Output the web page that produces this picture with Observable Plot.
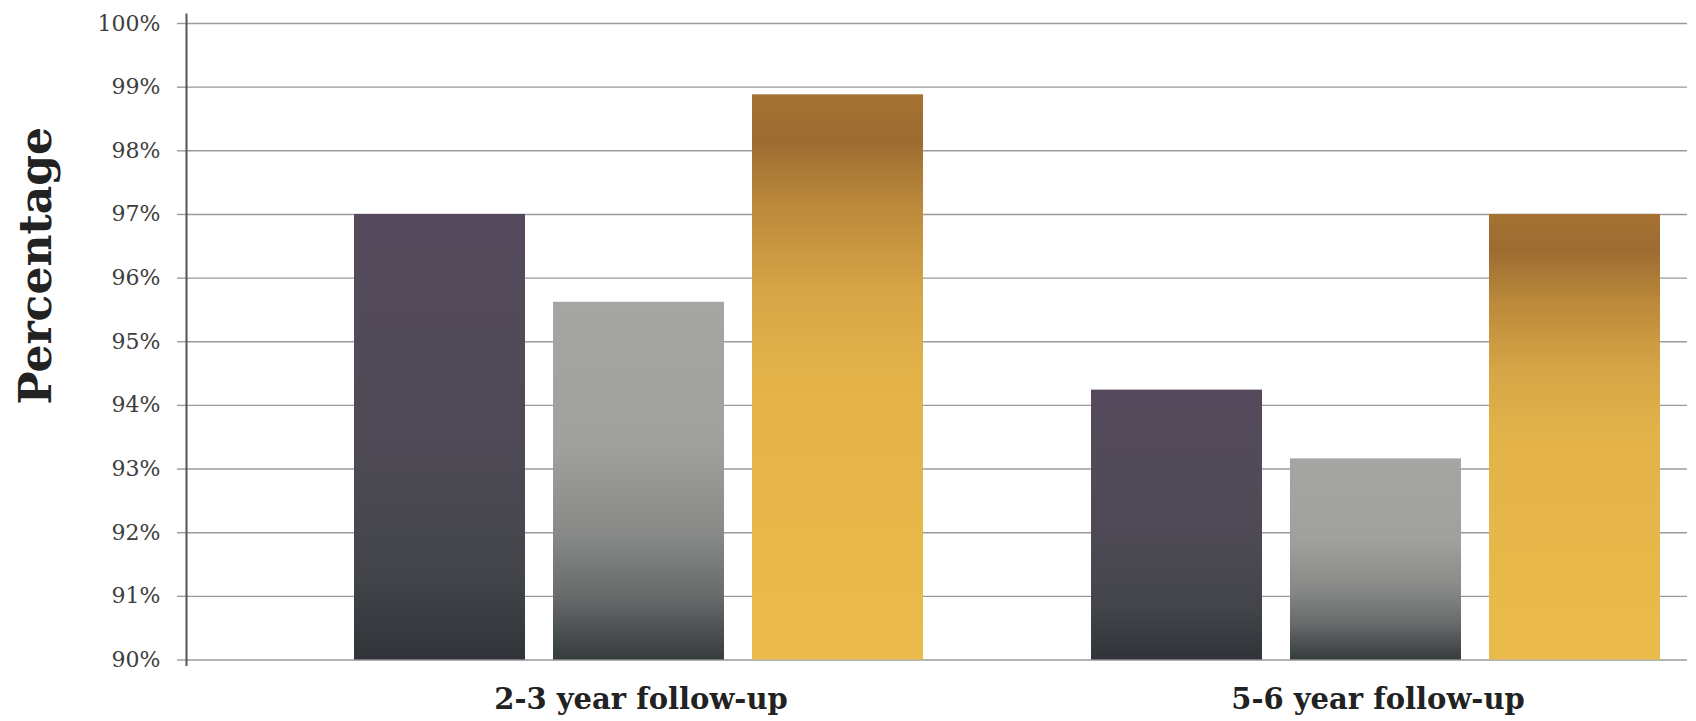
<!DOCTYPE html>
<html>
<head>
<meta charset="utf-8">
<script src="https://cdn.jsdelivr.net/npm/d3@7"></script>
<script src="https://cdn.jsdelivr.net/npm/@observablehq/plot@0.6"></script>
<style>
  html, body { margin: 0; padding: 0; background: #ffffff; }
  #chart svg { display: block; }
</style>
</head>
<body>
<div id="chart"></div>
<script>
// ---- data ----
const groups = ["2-3 year follow-up", "5-6 year follow-up"];
const series = ["Series 1", "Series 2", "Series 3"];
const values2to3 = [97.0, 95.62, 98.88];
const values5to6 = [94.24, 93.16, 97.0];
const yTicks = [90, 91, 92, 93, 94, 95, 96, 97, 98, 99, 100];
const yLabel = "Percentage";

// ---- gradient styles (per series) ----
const gradPurple = [[0, "#554a5c"], [0.5, "#4f4a56"], [0.8, "#43454b"], [1, "#303439"]];
const gradGray = [[0, "#a5a6a4"], [0.4, "#a0a19f"], [0.65, "#878987"], [0.82, "#676b6b"], [1, "#363b3e"]];
const gradGold = [[0, "#a57232"], [0.08, "#9d6b31"], [0.2, "#bb8a3b"], [0.35, "#d6a546"], [0.5, "#e3b34a"], [1, "#ebbb4a"]];
const gradients = [gradPurple, gradGray, gradGold];

const allValues = [values2to3, values5to6];
const data = groups.flatMap((g, gi) =>
  series.map((s, si) => ({group: g, series: s, value: allValues[gi][si]}))
);
const yMin = yTicks[0];
const yMax = yTicks[yTicks.length - 1];
const gridFirst = yTicks.map(t => ({group: groups[0], tick: t}));
const gridLast = yTicks.map(t => ({group: groups[groups.length - 1], tick: t}));

function gradientDefs() {
  const defs = d3.create("svg:defs");
  gradients.forEach((stops, i) => {
    const lg = defs.append("linearGradient")
      .attr("id", "barGrad" + i)
      .attr("x1", 0).attr("y1", 0).attr("x2", 0).attr("y2", 1);
    stops.forEach(([o, c]) => lg.append("stop").attr("offset", o).attr("stop-color", c));
  });
  return defs.node();
}

const chart = Plot.plot({
  width: 1696,
  height: 721,
  marginTop: 23,
  marginBottom: 61.5,
  marginLeft: 186,
  marginRight: 36,
  style: {fontFamily: "'DejaVu Serif', serif", background: "#ffffff", color: "#333"},
  y: {domain: [yMin, yMax], label: null},
  fx: {domain: groups, padding: 0, label: null, axis: null},
  x: {domain: series, paddingInner: 0.1418, paddingOuter: 0.4203, align: 1, axis: null, label: null},
  color: {domain: series, range: series.map((s, i) => `url(#barGrad${i})`)},
  marks: [
    gradientDefs,
    Plot.ruleY(gridFirst, {fx: "group", y: "tick", stroke: "#9a9a9a", strokeWidth: 1.4}),
    Plot.ruleY(gridLast, {fx: "group", y: "tick", stroke: "#9a9a9a", strokeWidth: 1.4, insetRight: -27}),
    Plot.barY(data, {fx: "group", x: "series", y1: () => yMin, y2: "value", fill: "series"}),
    Plot.axisY({
      ticks: yTicks, tickFormat: d => d + "%", tickSize: 9, tickPadding: 17,
      stroke: "#9a9a9a", strokeWidth: 1.4, fill: "#3d3d3d", fontSize: 22, label: null
    }),
    Plot.text([yLabel], {
      frameAnchor: "left", rotate: -90, lineAnchor: "top", textAnchor: "middle",
      dx: -167, dy: -76, fontSize: 44, fontWeight: "bold", fill: "#222", facetAnchor: "left"
    }),
    Plot.frame({anchor: "left", facetAnchor: "left", stroke: "#555", strokeWidth: 2, insetTop: -9, insetBottom: -5}),
    Plot.text(groups, {
      fx: d => d, x: () => series[1], text: d => d, frameAnchor: "bottom",
      lineAnchor: "middle", dx: 2, dy: 39.5, fontSize: 29, fontWeight: "bold", fill: "#222"
    })
  ]
});
document.getElementById("chart").appendChild(chart);
</script>
</body>
</html>
